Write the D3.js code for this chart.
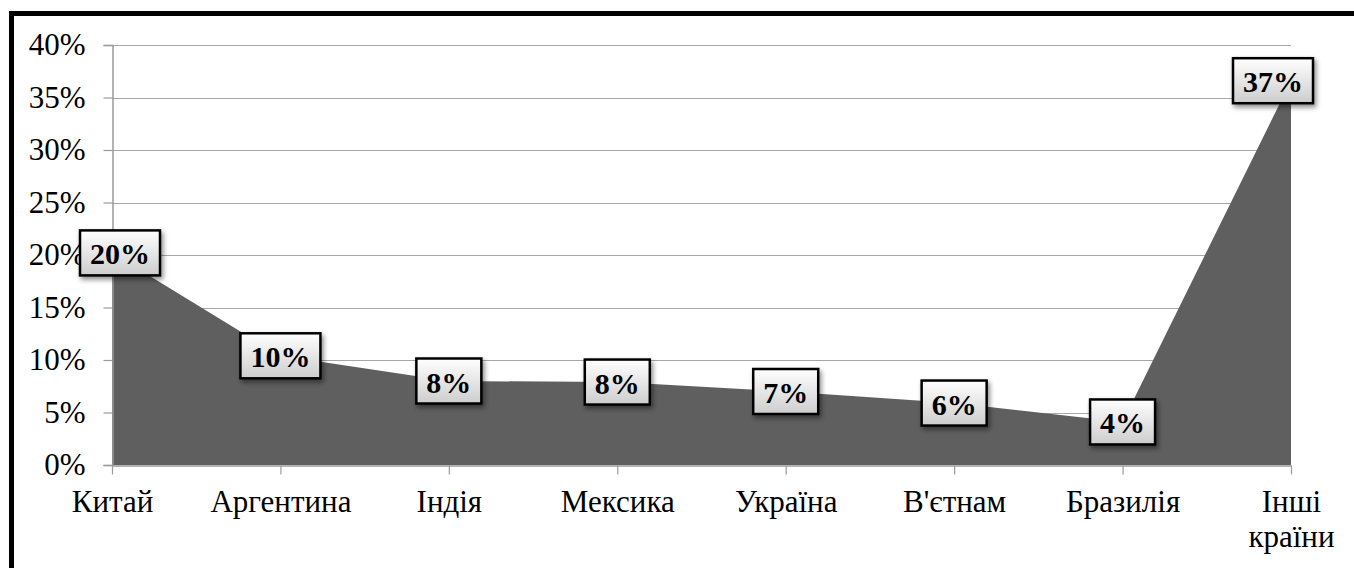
<!DOCTYPE html>
<html>
<head>
<meta charset="utf-8">
<script src="https://cdn.jsdelivr.net/npm/d3@7"></script>
<style>
  body { margin: 0; background: #fff; }
  svg { display: block; }
</style>
</head>
<body>
<div id="chart"></div>
<script>
// data
var categories = ["Китай", "Аргентина", "Індія", "Мексика", "Україна", "В'єтнам", "Бразилія", "Інші країни"];
var shares = [0.202, 0.104, 0.080, 0.079, 0.070, 0.059, 0.041, 0.366];
var yTicks = [0, 0.05, 0.10, 0.15, 0.20, 0.25, 0.30, 0.35, 0.40];

var W = 1354, H = 568;
var margin = {top: 45, left: 112, right: 63, bottom: 103};
var serif = "'Liberation Serif'";

var svg = d3.select("#chart").append("svg")
    .attr("width", W)
    .attr("height", H);

var defs = svg.append("defs");
var grad = defs.append("linearGradient")
    .attr("id", "boxfill")
    .attr("x1", 0).attr("y1", 0).attr("x2", 0).attr("y2", 1);
grad.append("stop").attr("offset", "0%").attr("stop-color", "#ffffff");
grad.append("stop").attr("offset", "100%").attr("stop-color", "#cdcdcd");

var shadow = defs.append("filter")
    .attr("id", "shadow")
    .attr("x", "-20%").attr("y", "-20%").attr("width", "150%").attr("height", "160%");
shadow.append("feDropShadow")
    .attr("dx", 2).attr("dy", 3)
    .attr("stdDeviation", 2.5)
    .attr("flood-color", "#000")
    .attr("flood-opacity", 0.45);

// scales
var x = d3.scalePoint().domain(categories).range([margin.left, W - margin.right]);
var y = d3.scaleLinear().domain([0, 0.4]).range([H - margin.bottom, margin.top]);

// frame
svg.append("path")
    .attr("d", "M11.5," + H + "V13.5H" + W)
    .attr("fill", "none")
    .attr("stroke", "#000")
    .attr("stroke-width", 5);

// gridlines
svg.append("g")
    .selectAll("line")
    .data(yTicks.slice(1))
    .join("line")
    .attr("x1", margin.left)
    .attr("x2", W - margin.right)
    .attr("y1", function(d) { return Math.round(y(d)) + 0.5; })
    .attr("y2", function(d) { return Math.round(y(d)) + 0.5; })
    .attr("stroke", "#a6a6a6")
    .attr("stroke-width", 1.2);

// area
var area = d3.area()
    .x(function(d, i) { return x(categories[i]); })
    .y0(y(0))
    .y1(function(d) { return y(d); });

svg.append("path")
    .datum(shares)
    .attr("d", area)
    .attr("fill", "#5f5f5f");

// y axis
var yAxis = d3.axisLeft(y)
    .tickValues(yTicks)
    .tickFormat(d3.format(".0%"))
    .tickSize(9)
    .tickPadding(18);

var gy = svg.append("g")
    .attr("transform", "translate(" + (margin.left + 0.5) + ",0)")
    .call(yAxis);
gy.attr("font-family", serif);
gy.select(".domain").attr("stroke", "#9a9a9a").attr("stroke-width", 1.5);
gy.selectAll(".tick line").attr("stroke", "#9a9a9a").attr("stroke-width", 1.2);
gy.selectAll(".tick text")
    .style("font-family", serif)
    .style("font-size", "31px")
    .attr("fill", "#000");

// x axis
var xAxis = d3.axisBottom(x)
    .tickSize(9)
    .tickSizeOuter(0)
    .tickPadding(15);

var gx = svg.append("g")
    .attr("transform", "translate(0," + (y(0) + 0.5) + ")")
    .call(xAxis);
gx.attr("font-family", serif);
gx.select(".domain").attr("stroke", "#9a9a9a").attr("stroke-width", 1.5);
gx.selectAll(".tick line").attr("stroke", "#9a9a9a").attr("stroke-width", 1.2);
gx.selectAll(".tick text")
    .style("font-family", serif)
    .style("font-size", "31px")
    .attr("fill", "#000")
    .each(function(d) {
        var words = d.split(" ");
        var t = d3.select(this).text(null);
        words.forEach(function(w, i) {
            t.append("tspan")
                .attr("x", 0)
                .attr("dy", i === 0 ? "0.71em" : "1.16em")
                .text(w);
        });
    });

// data labels
var fmt = d3.format(".0%");
var labels = svg.append("g").selectAll("g")
    .data(shares)
    .join("g");

labels.each(function(d, i) {
    var g = d3.select(this);
    var rect = g.append("rect");
    var txt = g.append("text")
        .attr("text-anchor", "middle")
        .attr("dominant-baseline", "central")
        .style("font-family", serif)
        .style("font-weight", "bold")
        .style("font-size", "30px")
        .text(fmt(d));
    var tw = txt.node().getComputedTextLength();
    var bw = tw + 20, bh = 45;
    var cx = x(categories[i]);
    var cy = y(d);
    cx = Math.max(80 + bw / 2, Math.min(W - 41 - bw / 2, cx));
    rect.attr("x", cx - bw / 2)
        .attr("y", cy - bh / 2)
        .attr("width", bw)
        .attr("height", bh)
        .attr("fill", "url(#boxfill)")
        .attr("stroke", "#000")
        .attr("stroke-width", 2.5)
        .attr("filter", "url(#shadow)");
    txt.attr("x", cx).attr("y", cy + 1);
});
</script>
</body>
</html>
